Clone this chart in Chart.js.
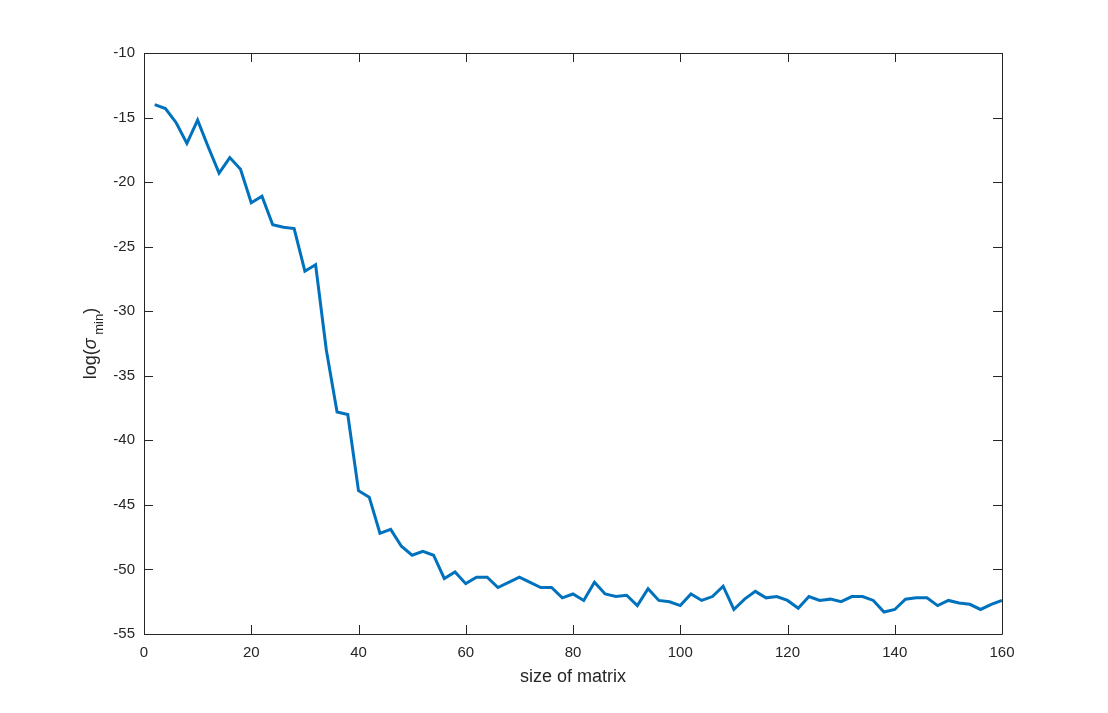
<!DOCTYPE html>
<html>
<head>
<meta charset="utf-8">
<script src="https://cdn.jsdelivr.net/npm/chart.js@4/dist/chart.umd.min.js"></script>
<style>
  html, body { margin: 0; padding: 0; background: #fff; }
  #wrap { width: 1108px; height: 713px; }
</style>
</head>
<body>
<div id="wrap"><canvas id="chart-sigma" width="1108" height="713"></canvas></div>
<script>
// matrix sizes and log of smallest singular value
const matrixSize = [];
for (let n = 2; n <= 160; n += 2) matrixSize.push(n);

const logSigmaMin = [
  -14.0, -14.3, -15.4, -17.0, -15.2, -17.3, -19.3, -18.1, -19.0, -21.6,
  -21.1, -23.3, -23.5, -23.6, -26.9, -26.4, -33.0, -37.8, -38.0, -43.9,
  -44.4, -47.2, -46.9, -48.2, -48.9, -48.6, -48.9, -50.7, -50.2, -51.1,
  -50.6, -50.6, -51.4, -51.0, -50.6, -51.0, -51.4, -51.4, -52.2, -51.9,
  -52.4, -51.0, -51.9, -52.1, -52.0, -52.8, -51.5, -52.4, -52.5, -52.8,
  -51.9, -52.4, -52.1, -51.3, -53.1, -52.3, -51.7, -52.2, -52.1, -52.4,
  -53.0, -52.1, -52.4, -52.3, -52.5, -52.1, -52.1, -52.4, -53.3, -53.1,
  -52.3, -52.2, -52.2, -52.8, -52.4, -52.6, -52.7, -53.1, -52.7, -52.4
];

const xTicks = [0, 20, 40, 60, 80, 100, 120, 140, 160];
const yTicks = [-10, -15, -20, -25, -30, -35, -40, -45, -50, -55];

const axisColor = '#262626';
const fontFamily = 'Liberation Sans, Arial, Helvetica, sans-serif';

// box around the axes with inward ticks on all four sides, plus the y title
const matlabBox = {
  id: 'matlabBox',
  afterDraw(chart) {
    const ctx = chart.ctx;
    const a = chart.chartArea;
    const xs = chart.scales.x, ys = chart.scales.y;
    const tl = 9;
    ctx.save();
    ctx.strokeStyle = axisColor;
    ctx.lineWidth = 1;
    ctx.beginPath();
    ctx.rect(Math.round(a.left) + 0.5, Math.round(a.top) + 0.5,
             Math.round(a.right - a.left), Math.round(a.bottom - a.top));
    xTicks.forEach(v => {
      const px = Math.round(xs.getPixelForValue(v)) + 0.5;
      ctx.moveTo(px, a.bottom); ctx.lineTo(px, a.bottom - tl);
      ctx.moveTo(px, a.top); ctx.lineTo(px, a.top + tl);
    });
    yTicks.forEach(v => {
      const py = Math.round(ys.getPixelForValue(v)) + 0.5;
      ctx.moveTo(a.left, py); ctx.lineTo(a.left + tl, py);
      ctx.moveTo(a.right, py); ctx.lineTo(a.right - tl, py);
    });
    ctx.stroke();

    // y title: log(σ_min)
    ctx.translate(96, (a.top + a.bottom) / 2);
    ctx.rotate(-Math.PI / 2);
    ctx.fillStyle = axisColor;
    ctx.textBaseline = 'alphabetic';
    const big = '18px ' + fontFamily;
    const ital = 'italic 18px ' + fontFamily;
    const small = '13px ' + fontFamily;
    const parts = [['log(', big, 0], ['\u03c3', ital, 0], [' min', small, 7], [')', big, 0]];
    let w = 0;
    parts.forEach(p => { ctx.font = p[1]; w += ctx.measureText(p[0]).width; });
    let x = -w / 2;
    parts.forEach(p => {
      ctx.font = p[1];
      ctx.fillText(p[0], x, 0 + p[2]);
      x += ctx.measureText(p[0]).width;
    });
    ctx.restore();
  }
};

const ctxSigma = document.getElementById('chart-sigma');
new Chart(ctxSigma, {
  type: 'line',
  data: {
    labels: matrixSize,
    datasets: [{
      label: 'log(sigma_min)',
      data: matrixSize.map((n, i) => ({ x: n, y: logSigmaMin[i] })),
      borderColor: '#0072BD',
      borderWidth: 3,
      pointRadius: 0,
      tension: 0,
      fill: false
    }]
  },
  options: {
    responsive: false,
    animation: false,
    devicePixelRatio: 1,
    layout: { padding: { left: 0, top: 53, right: 106, bottom: 0 } },
    plugins: { legend: { display: false }, tooltip: { enabled: false } },
    scales: {
      x: {
        type: 'linear',
        min: 0, max: 160,
        afterBuildTicks: s => { s.ticks = xTicks.map(v => ({ value: v })); },
        afterFit: s => { s.height = 79; },
        grid: { display: false, drawTicks: false },
        border: { display: false },
        ticks: { color: axisColor, font: { family: fontFamily, size: 15 }, padding: 10, maxRotation: 0 },
        title: { display: true, text: 'size of matrix', color: axisColor,
                 font: { family: fontFamily, size: 18 }, padding: { top: 2, bottom: 25 } }
      },
      y: {
        type: 'linear',
        min: -55, max: -10,
        afterBuildTicks: s => { s.ticks = yTicks.map(v => ({ value: v })); },
        afterFit: s => { s.width = 144; },
        grid: { display: false, drawTicks: false },
        border: { display: false },
        ticks: { color: axisColor, font: { family: fontFamily, size: 15 }, padding: 9 }
      }
    }
  },
  plugins: [matlabBox]
});
</script>
</body>
</html>
